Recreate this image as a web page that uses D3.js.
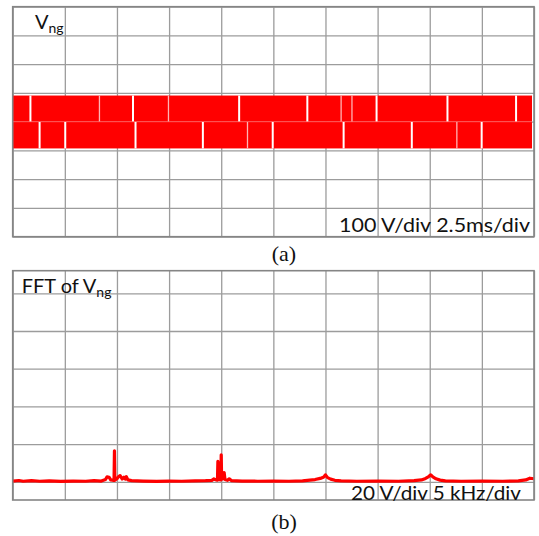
<!DOCTYPE html>
<html>
<head>
<meta charset="utf-8">
<script src="https://cdn.jsdelivr.net/npm/d3@7"></script>
<style>
  body { margin: 0; background: #fff; }
  text { font-family: Lato, "Open Sans", sans-serif; fill: #111; }
</style>
</head>
<body>
<div id="chart"></div>
<script>
// ---- (a) V_ng in time, 2.5 ms/div, 100 V/div ----
const timeTicks = [0, 2.5, 5, 7.5, 10, 12.5, 15, 17.5, 20, 22.5, 25];
const voltTicks = [-400, -300, -200, -100, 0, 100, 200, 300, 400];
const vngHigh = 91;     // upper switching level (V)
const vngLow = -93;     // lower switching level (V)
// white gaps in the switching pattern (ms)
const upperGapsMs = [0.85, 5.77, 10.86, 14.13, 17.45, 20.85, 24.14];
const upperFaintMs = [4.16, 7.47, 15.75, 16.27];
const lowerGapsMs = [1.29, 2.52, 5.89, 9.12, 12.47, 15.87, 19.14, 22.49];
const lowerFaintMs = [11.26, 21.3];

// ---- (b) FFT of V_ng, 5 kHz/div, 20 V/div ----
const freqTicks = [0, 5, 10, 15, 20, 25, 30, 35, 40, 45, 50];
const fftVoltTicks = [0, 20, 40, 60, 80, 100];
const fftKHz = [0, 0.6, 1.0, 1.8, 2.6, 3.5, 4.6, 5.8, 7.0, 7.8, 8.5, 8.9, 9.05, 9.25, 9.4, 9.6, 9.72, 9.76, 9.8,
  10.0, 10.12, 10.3, 10.5, 10.67, 10.8, 10.9, 11.05, 11.4, 12.5, 13.8, 15.0, 16.2, 17.5, 18.5, 19.1, 19.3, 19.5,
  19.64, 19.68, 19.72, 19.96, 20.0, 20.04, 20.24, 20.28, 20.36, 20.6, 20.77, 21.0, 22.0, 23.5, 25.0, 26.5, 27.8,
  28.5, 29.0, 29.5, 29.85, 30.0, 30.2, 30.5, 30.9, 31.5, 33.0, 35.0, 37.0, 38.5, 39.2, 39.6, 39.9, 40.1, 40.3,
  40.6, 41.0, 41.5, 43.0, 45.0, 47.0, 48.5, 49.2, 49.6, 50.0];
const fftAmp = [0.4, 0.7, 0.3, 0.6, 0.3, 0.5, 0.2, 0.4, 0.3, 0.6, 0.4, 1.2, 2.6, 2.4, 1.0, 0.8, 0.8, 16.4, 0.8,
  1.6, 2.5, 3.3, 1.5, 2.4, 1.4, 2.7, 1.0, 0.6, 0.4, 0.2, 0.4, 0.3, 0.5, 0.6, 0.8, 1.5, 1.0,
  0.9, 10.8, 1.2, 1.0, 14.3, 1.4, 1.8, 4.9, 1.2, 0.8, 1.6, 0.6, 0.4, 0.3, 0.4, 0.3, 0.5,
  0.9, 1.2, 1.8, 2.6, 3.7, 2.2, 1.4, 0.8, 0.5, 0.3, 0.4, 0.3, 0.6, 1.0, 1.8, 2.8, 3.7, 2.6,
  1.6, 0.9, 0.5, 0.3, 0.4, 0.3, 0.5, 1.0, 1.9, 1.6];

const width = 539, height = 536;
const left = 12.7, right = 534;
const gridColor = '#9c9c9c', borderColor = '#858585', trace = '#ff0000';

const svg = d3.select('#chart')
    .append('svg')
    .attr('width', width)
    .attr('height', height);

svg.append('rect').attr('width', width).attr('height', height).attr('fill', '#fff');

/* scales for panel (a) */
const xTime = d3.scaleLinear().domain([0, 25]).range([left, right]);
const yVolt = d3.scaleLinear().domain([-400, 400]).range([236.7, 6.7]);

/* scales for panel (b) */
const xFreq = d3.scaleLinear().domain([0, 50]).range([left, right]);
const yFft = d3.scaleLinear().domain([0, 100]).range([481.8, 293.3]);
const fftTop = 270.7, fftBottom = 500;

function grid(g, xs, ticksX, ys, ticksY, top, bottom) {
    g.append('g')
        .attr('transform', `translate(0,${bottom})`)
        .call(d3.axisBottom(xs).tickValues(ticksX).tickSize(-(bottom - top)).tickFormat(''))
        .call(a => a.select('.domain').remove())
        .selectAll('line').attr('stroke', gridColor).attr('stroke-width', 1.3);
    g.append('g')
        .attr('transform', `translate(${left},0)`)
        .call(d3.axisLeft(ys).tickValues(ticksY).tickSize(-(right - left)).tickFormat(''))
        .call(a => a.select('.domain').remove())
        .selectAll('line').attr('stroke', gridColor).attr('stroke-width', 1.3);
}

/* ---------- panel (a) ---------- */
const pa = svg.append('g');
grid(pa, xTime, timeTicks, yVolt, voltTicks, 6.7, 236.7);

// switching bands
pa.append('rect')
    .attr('x', xTime(0)).attr('width', xTime(25) - xTime(0) - 2)
    .attr('y', yVolt(vngHigh)).attr('height', yVolt(0) - yVolt(vngHigh))
    .attr('fill', trace);
pa.append('rect')
    .attr('x', xTime(0)).attr('width', xTime(25) - xTime(0) - 2)
    .attr('y', yVolt(0)).attr('height', yVolt(vngLow) - yVolt(0))
    .attr('fill', trace);
pa.append('line')
    .attr('x1', xTime(0)).attr('x2', xTime(25) - 2)
    .attr('y1', yVolt(0)).attr('y2', yVolt(0))
    .attr('stroke', '#ff5a5a').attr('stroke-width', 1);

function gaps(list, hi, lo, color, w) {
    pa.selectAll(null).data(list).enter().append('line')
        .attr('x1', d => xTime(d)).attr('x2', d => xTime(d))
        .attr('y1', yVolt(hi)).attr('y2', yVolt(lo))
        .attr('stroke', color).attr('stroke-width', w);
}
gaps(upperGapsMs, vngHigh, 1, '#ffffff', 2);
gaps(upperFaintMs, vngHigh, 1, '#ffb4b4', 1.3);
gaps(lowerGapsMs, -1, vngLow, '#ffffff', 2);
gaps(lowerFaintMs, -1, vngLow, '#ffb4b4', 1.3);

pa.append('rect')
    .attr('x', left).attr('y', 6.7).attr('width', right - left).attr('height', 230)
    .attr('fill', 'none').attr('stroke', borderColor).attr('stroke-width', 1.6);

const la = pa.append('text').attr('x', 35).attr('y', 29.3).style('font-size', '20px');
la.append('tspan').text('V');
la.append('tspan').attr('dy', 4).style('font-size', '14px').text('ng');

pa.append('text')
    .attr('x', 339).attr('y', 231.5)
    .attr('textLength', 191).attr('lengthAdjust', 'spacingAndGlyphs')
    .style('font-size', '20px')
    .text('100 V/div 2.5ms/div');

svg.append('text')
    .attr('x', 284).attr('y', 261)
    .attr('text-anchor', 'middle')
    .style('font-family', '"Liberation Serif", "Times New Roman", serif')
    .style('font-size', '22px')
    .text('(a)');

/* ---------- panel (b) ---------- */
const pb = svg.append('g');
grid(pb, xFreq, freqTicks, yFft, fftVoltTicks, fftTop, fftBottom);

const fftData = fftKHz.map((f, i) => ({f: f, v: fftAmp[i]}));
pb.append('path')
    .datum(fftData)
    .attr('fill', 'none')
    .attr('stroke', trace)
    .attr('stroke-width', 3.2)
    .attr('stroke-linejoin', 'round')
    .attr('d', d3.line().x(d => xFreq(d.f)).y(d => yFft(d.v)));

pb.append('rect')
    .attr('x', left).attr('y', fftTop).attr('width', right - left).attr('height', fftBottom - fftTop)
    .attr('fill', 'none').attr('stroke', borderColor).attr('stroke-width', 1.6);

const lb = pb.append('text').attr('x', 21.7).attr('y', 292.7).style('font-size', '20px');
lb.append('tspan').text('FFT of V');
lb.append('tspan').attr('dy', 4).style('font-size', '14px').text('ng');

pb.append('text')
    .attr('x', 351).attr('y', 500)
    .attr('textLength', 170).attr('lengthAdjust', 'spacingAndGlyphs')
    .style('font-size', '20px')
    .text('20 V/div 5 kHz/div');

svg.append('text')
    .attr('x', 284).attr('y', 529)
    .attr('text-anchor', 'middle')
    .style('font-family', '"Liberation Serif", "Times New Roman", serif')
    .style('font-size', '22px')
    .text('(b)');
</script>
</body>
</html>
